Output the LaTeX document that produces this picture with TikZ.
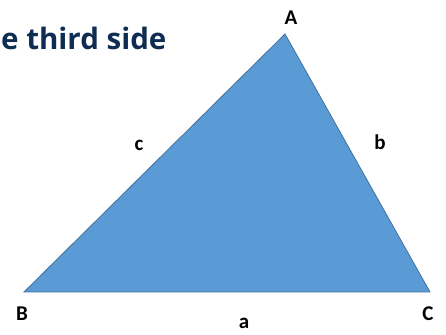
\documentclass[tikz,border=0pt]{standalone}
\usepackage{fontspec}
\setmainfont{Carlito}
\newfontfamily\titlefont{Open Sans}
\usetikzlibrary{positioning}

\definecolor{triblue}{HTML}{5B9BD5}
\definecolor{triedge}{HTML}{41719C}
\definecolor{titlenavy}{HTML}{0F2D52}

\begin{document}
\begin{tikzpicture}[
    x=1pt, y=1pt,
    tri/.style={fill=triblue, draw=triedge, line width=0.8pt, line join=miter}, % Style for the triangle
    vlabel/.style={font=\bfseries\fontsize{21}{21}\selectfont, inner sep=0pt}, % Style for vertex and side labels
    title/.style={font=\titlefont\bfseries\fontsize{29.5}{29.5}\selectfont, text=titlenavy, inner sep=0pt} % Style for heading
]

    % Canvas
    \useasboundingbox (0,0) rectangle (446,334);

    % Vertices
    \coordinate (A) at (285, 300);
    \coordinate (B) at (24, 42);
    \coordinate (C) at (430, 42);

    % Triangle
    \draw[tri] (A) -- (B) -- (C) -- cycle;

    % Vertex labels
    \node[vlabel] (labA) at (291, 316) {A};
    \node[vlabel] (labB) at (22, 20) {B};
    \node[vlabel] (labC) at (428, 20) {C};

    % Side labels
    \node[vlabel] (laba) at (244, 11) {a};
    \node[vlabel] (labb) at (380, 192) {b};
    \node[vlabel] (labc) at (139, 189) {c};

    % Heading
    \node[title, anchor=base west] (head) at (1, 284) {e third side};

\end{tikzpicture}
\end{document}
